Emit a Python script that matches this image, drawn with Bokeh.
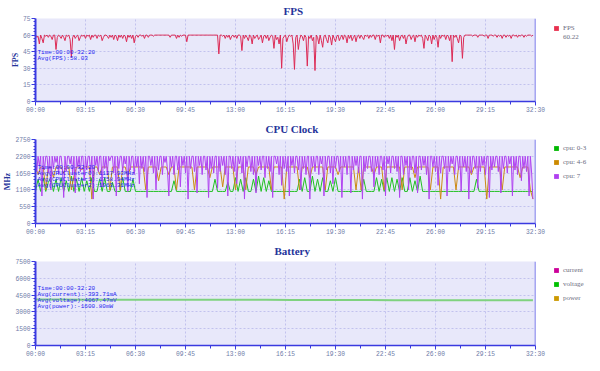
from bokeh.plotting import figure
from bokeh.layouts import column
from bokeh.models import Range1d, FixedTicker, Label, Legend, LegendItem, Span, Title
from bokeh.embed import file_html
from bokeh.resources import INLINE

NAN = float("nan")

# ---------------- data ----------------
tick_seconds = [0, 195, 390, 585, 780, 975, 1170, 1365, 1560, 1755, 1950]
tick_labels = ["00:00", "03:15", "06:30", "09:45", "13:00", "16:15",
               "19:30", "22:45", "26:00", "29:15", "32:30"]

fps_time = list(range(0, 1945, 5))
fps = [
    60, 58, 59, 52, 60, 57, 53, 60, 59, 60, 58, 60, 59, 56, 60, 60, 47, 58, 60, 59,
    57, 60, 58, 55, 60, 59, 60, 56, 40, 58, 60, 57, 59, 60, 55, 58, 60, 59, 60, 57,
    60, 59, 60, 56, 60, 58, 60, 60, 57, 60, 59, 60, 55, 58, 60, 60, 59, 57, 60, 58,
    60, 56, 60, 59, 55, 60, 58, 60, 57, 60, 59, 54, 60, 58, 60, 57, 60, 53, 59, 60,
    58, 60, 60, 59, 60, 57, 60, 60, 58, 60, 60, 60, 59, 60, 60, 60, 60, 60, 60, 60,
    60, 60, 60, 60, 60, 58, 60, 60, 60, 60, 57, 60, 58, 60, 59, 60, 60, 60, 54, 60,
    60, 60, 60, 60, 60, 60, 60, 60, 60, 60, 60, 60, 60, 60, 60, 60, 60, 60, 60, 60,
    60, 60, 60, 43, 60, 60, 59, 60, 57, 60, 58, 60, 56, 59, 60, 58, 60, 57, 60, 60,
    59, 46, 60, 57, 60, 58, 55, 60, 59, 52, 60, 57, 59, 60, 56, 58, 60, 53, 59, 60,
    57, 60, 55, 58, 60, 59, 48, 60, 56, 58, 52, 60, 30, 57, 59, 60, 54, 58, 60, 59,
    60, 52, 29, 58, 60, 47, 56, 60, 59, 55, 60, 58, 32, 59, 57, 60, 55, 58, 28, 60,
    58, 52, 60, 55, 49, 59, 60, 56, 53, 60, 58, 51, 60, 57, 54, 59, 60, 55, 58, 60,
    56, 60, 59, 53, 60, 57, 60, 55, 58, 60, 54, 59, 60, 57, 60, 58, 56, 60, 59, 60,
    57, 60, 58, 60, 60, 56, 60, 59, 60, 53, 60, 60, 58, 60, 59, 60, 57, 60, 55, 60,
    47, 60, 58, 60, 55, 59, 60, 57, 60, 52, 58, 60, 60, 56, 59, 60, 54, 60, 58, 60,
    59, 60, 57, 48, 60, 58, 55, 60, 59, 52, 60, 56, 60, 58, 49, 60, 57, 60, 59, 60,
    56, 60, 59, 55, 60, 36, 60, 58, 60, 57, 53, 60, 59, 39, 58, 60, 60, 60, 60, 60,
    60, 59, 60, 60, 60, 58, 60, 60, 60, 60, 59, 60, 60, 57, 60, 60, 60, 59, 60, 60,
    58, 60, 59, 60, 57, 60, 60, 58, 60, 59, 60, 57, 60, 60, 59, 60, 58, 60, 59, 60,
    60, 58, 60, 59, 60, 60, 60, 59, 60,
]

cpu_time = list(range(0, 1945, 10))
cpu_0_3 = [
    1050, 1450, 1050, 1500, 1050, 1350, 1500, 1050, 1450, 1050, 1500, 1050, 1400, 1050, 1550, 1050, 1450, 1050, 1500, 1050,
    1400, 1050, 1500, 1050, 1050, 1450, 1050, 1500, 1050, 1050, 1350, 1050, 1050, 1050, 1500, 1050, 1050, 1050, 1450, 1050,
    1050, 1050, 1050, 1050, 1050, 1050, 1050, 1050, 1050, 1050, 1050, 1050, 1050, 1050, 1400, 1050, 1050, 1050, 1050, 1050,
    1050, 1050, 1050, 1050, 1050, 1050, 1050, 1050, 1050, 1050, 1450, 1050, 1050, 1050, 1050, 1350, 1050, 1050, 1500, 1050,
    1450, 1050, 1500, 1050, 1050, 1450, 1050, 1550, 1050, 1500, 1050, 1400, 1050, 1050, 1050, 1050, 1050, 1050, 1050, 1050,
    1050, 1050, 1050, 1450, 1050, 1500, 1050, 1050, 1550, 1050, 1450, 1050, 1500, 1050, 1050, 1400, 1050, 1500, 1050, 1050,
    1050, 1050, 1050, 1050, 1050, 1050, 1050, 1050, 1450, 1050, 1050, 1050, 1050, 1500, 1050, 1450, 1050, 1500, 1050, 1500,
    1050, 1450, 1050, 1500, 1050, 1050, 1500, 1050, 1400, 1050, 1550, 1050, 1050, 1050, 1050, 1050, 1050, 1050, 1050, 1050,
    1050, 1050, 1050, 1050, 1050, 1050, 1050, 1050, 1050, 1050, 1050, 1050, 1450, 1050, 1050, 1050, 1050, 1050, 1050, 1050,
    1050, 1050, 1050, 1050, 1050, 1050, 1050, 1050, 1050, 1050, 1050, 1050, 1050, 1050, 1050,
]
cpu_4_6 = [
    1850, 1600, 1850, 1850, 1100, 1850, 1850, 1500, 1850, 1850, 1850, 1650, 1850, 1850, 1100, 1550, 1850, 1850, 1750, 1850,
    1850, 1850, 800, 1850, 1850, 1600, 1850, 1850, 1850, 1100, 1850, 1850, 1850, 1100, 1850, 1850, 1500, 1850, 1850, 1850,
    1850, 1850, 1850, 1100, 1850, 1850, 1850, 1850, 1400, 1850, 1850, 1850, 1600, 1850, 1850, 1100, 1850, 1850, 1850, 1850,
    1850, 1850, 1100, 1850, 1850, 1850, 1850, 1850, 1500, 1850, 1850, 1850, 1850, 1200, 1850, 1850, 1850, 1850, 1100, 1850,
    1850, 1850, 1100, 1850, 1850, 1850, 1600, 1850, 1850, 1850, 1850, 1850, 1100, 1850, 1850, 1850, 1850, 800, 1850, 1850,
    1850, 1850, 1850, 1100, 1850, 1850, 1850, 1500, 1850, 1850, 1850, 1850, 1850, 1100, 1850, 1850, 1850, 1850, 1600, 1850,
    1850, 1850, 1850, 1850, 1850, 1100, 1850, 1100, 1850, 1850, 1850, 1850, 1600, 1850, 1850, 1850, 1100, 1850, 1850, 1850,
    1850, 1850, 1850, 1100, 1850, 1850, 1850, 1850, 1500, 1850, 1850, 1850, 1850, 1850, 1100, 1850, 1850, 1850, 800, 1850,
    1850, 1850, 1850, 1850, 1100, 1850, 1850, 1850, 1850, 1850, 1600, 1850, 1850, 1850, 1850, 1850, 800, 1850, 1850, 1850,
    1850, 1850, 1100, 1850, 1850, 1850, 1850, 1850, 1850, 1500, 1850, 1850, 1850, 1100, 800,
]
cpu7_time = list(range(0, 1945, 5))
cpu_7 = [
    2200, 1700, 2200, 1900, 2200, 900, 2200, 1750, 2200, 2200, 1650, 2200, 1100, 2200, 1800, 2200, 2000, 2200, 1600, 2200,
    2200, 1800, 850, 2200, 1700, 2200, 2200, 1950, 2200, 1600, 2200, 1000, 2200, 1850, 2200, 1700, 2200, 2200, 1400, 2200,
    1750, 2200, 2200, 1650, 2200, 800, 2200, 1900, 2200, 1700, 2200, 2200, 1200, 2200, 1800, 2200, 1600, 2200, 2050, 2200,
    2200, 1650, 2200, 900, 2200, 1800, 2200, 2200, 1700, 2200, 1950, 2200, 1050, 2200, 1750, 2200, 2200, 1600, 2200, 1850,
    2200, 1300, 2200, 1800, 2200, 1700, 2200, 850, 2200, 2200, 1900, 2200, 1650, 2200, 1100, 2200, 1750, 2200, 2200, 1600,
    2200, 2000, 2200, 1700, 900, 2200, 1850, 2200, 1600, 2200, 2200, 1750, 2200, 1200, 2200, 1900, 2200, 1650, 2200, 800,
    2200, 1800, 2200, 2200, 1700, 2200, 1000, 2200, 1900, 2200, 1600, 2200, 2200, 1750, 2200, 850, 2200, 1800, 2200, 1650,
    2200, 2200, 1150, 2200, 1700, 2200, 1900, 2200, 1600, 2200, 900, 2200, 2200, 1800, 2200, 1700, 2200, 1300, 2200, 1950,
    2200, 1650, 2200, 800, 2200, 1850, 2200, 2200, 1700, 2200, 1600, 2200, 1000, 2200, 1900, 2200, 1750, 2200, 2200, 1500,
    2200, 1800, 2200, 1700, 2200, 850, 2200, 2200, 1950, 2200, 1600, 2200, 1250, 2200, 1800, 2200, 1700, 2200, 900, 2200,
    1900, 2200, 1650, 2200, 2200, 1750, 2200, 1100, 2200, 1800, 2200, 1600, 2200, 2200, 800, 2200, 1850, 2200, 1700, 2200,
    2200, 1600, 2200, 1950, 2200, 900, 2200, 1750, 2200, 2200, 1650, 2200, 1300, 2200, 1800, 2200, 2200, 1700, 2200, 850,
    2200, 1850, 2200, 1600, 2200, 2200, 1000, 2200, 1750, 2200, 1900, 2200, 1650, 2200, 2200, 800, 2200, 1700, 2200, 1800,
    2200, 2200, 1700, 2200, 1200, 2200, 1850, 2200, 1600, 2200, 2200, 1750, 2200, 900, 2200, 1950, 2200, 1650, 2200, 2200,
    1800, 2200, 1700, 2200, 850, 2200, 2200, 1600, 2200, 1900, 2200, 1100, 2200, 1750, 2200, 2200, 1650, 2200, 1000, 2200,
    2200, 1750, 2200, 1900, 2200, 1600, 2200, 800, 2200, 2200, 1850, 2200, 1700, 2200, 1250, 2200, 1650, 2200, 2200, 1800,
    2200, 900, 2200, 1700, 2200, 1950, 2200, 1600, 2200, 2200, 1750, 2200, 1050, 2200, 1850, 2200, 1700, 2200, 800, 2200,
    1650, 2200, 2200, 1800, 2200, 1150, 2200, 1700, 2200, 1900, 2200, 1600, 2200, 2200, 850, 2200, 1750, 2200, 1850, 2200,
    2200, 1700, 2200, 1000, 2200, 1800, 2200, 2200, 1650, 2200, 1950, 2200, 900, 2200, 1750, 2200, 1600, 2200, 2200, 1400,
    2200, 1800, 2200, 1700, 2200, 900, 2200, 1650, 800,
]

bat_time = [0, 100, 200, 300, 400, 500, 600, 700, 800, 900, 1000,
            1100, 1200, 1300, 1400, 1500, 1600, 1700, 1800, 1900, 1940]
voltage = [4100, 4098, 4095, 4093, 4090, 4088, 4085, 4083, 4080, 4078, 4060,
           4057, 4055, 4052, 4050, 4048, 4045, 4043, 4040, 4038, 4037]
bat_time_cp = [0, 485, 970, 1455, 1940]
current = [-385, -398, -402, -390, -394]
power = [-1570, -1615, -1625, -1590, -1603]

fps_notes = ["Time:00:00-32:20", "Avg(FPS):58.03"]
cpu_notes = ["Time:00:00-32:20", "Avg(CPUCluster0):1127.93MHz",
             "Avg(CPUCluster1):1758.94MHz", "Avg(CPUCluster2):1963.31MHz"]
bat_notes = ["Time:00:00-32:20", "Avg(current):-393.71mA",
             "Avg(voltage):4067.47mV", "Avg(power):-1600.80mW"]
fps_legend_value = "60.22"

# ---------------- style ----------------
BLUE = "#3A3AE0"
TICKTXT = "#6F7CA8"
TITLE = "#26349A"
NOTE = "#1E1EF0"
FRAME_W = 500


def make_fig(frame_h, ymax, ystep, top, bottom, ylabel, title, standoff, title_x):
    p = figure(frame_width=FRAME_W, frame_height=frame_h, output_backend="svg",
               toolbar_location=None,
               x_range=Range1d(0, 1950), y_range=Range1d(0, ymax),
               min_border_left=27, min_border_right=55,
               min_border_top=top, min_border_bottom=bottom)
    p.background_fill_color = "#E8E8FA"
    p.border_fill_color = "white"
    p.outline_line_color = None
    p.add_layout(Title(text=title, align="left", offset=title_x, standoff=standoff,
                       text_font="Liberation Serif", text_font_size="11px",
                       text_font_style="bold", text_color=TITLE), "above")

    yt = [ystep * i for i in range(6)]
    ym = [ystep / 5 * i for i in range(26) if i % 5]
    xm = [t + 97.5 for t in tick_seconds[:-1]]
    p.xaxis.ticker = FixedTicker(ticks=tick_seconds, minor_ticks=xm)
    p.yaxis.ticker = FixedTicker(ticks=yt, minor_ticks=ym)
    p.xaxis.major_label_overrides = {t: l for t, l in zip(tick_seconds, tick_labels)}
    p.yaxis.major_label_overrides = {v: str(int(v)) for v in yt}
    p.xgrid.ticker = FixedTicker(ticks=tick_seconds)
    p.ygrid.ticker = FixedTicker(ticks=yt)
    for g in (p.xgrid, p.ygrid):
        g.grid_line_color = "#C2C2EE"
        g.grid_line_dash = "2 2"
        g.grid_line_width = 1

    for ax in (p.xaxis, p.yaxis):
        ax.axis_line_color = BLUE
        ax.major_tick_line_color = BLUE
        ax.minor_tick_line_color = BLUE
        ax.major_tick_in = 0
        ax.minor_tick_in = 0
        ax.major_label_text_font = "Liberation Mono"
        ax.major_label_text_font_size = "6.3px"
        ax.major_label_text_color = TICKTXT
    p.xaxis.major_label_standoff = 1
    p.yaxis.major_label_standoff = 1
    p.yaxis.axis_line_width = 2
    p.xaxis.axis_line_width = 1.5
    p.yaxis.major_tick_out = 4
    p.yaxis.minor_tick_out = 2
    p.xaxis.major_tick_out = 4
    p.xaxis.minor_tick_out = 3
    if ylabel:
        p.yaxis.axis_label = ylabel
        p.yaxis.axis_label_text_font = "Liberation Serif"
        p.yaxis.axis_label_text_font_size = "8px"
        p.yaxis.axis_label_text_font_style = "bold"
        p.yaxis.axis_label_text_color = TITLE
        p.yaxis.axis_label_standoff = 0

    p.add_layout(Span(location=1950, dimension="height", line_color="#5A5AE6", line_width=1.5))
    return p


def add_notes(p, lines, y0):
    for i, s in enumerate(lines):
        p.add_layout(Label(x=2, y=y0 - 6.2 * i, x_units="screen", y_units="screen",
                           text=s, text_baseline="middle", text_font="Liberation Mono",
                           text_font_size="6px", text_color=NOTE))


def legend_box(p, color, alpha=1.0):
    return p.quad(left=[NAN], right=[NAN], top=[NAN], bottom=[NAN], fill_color=color,
                  fill_alpha=alpha, line_color=None)


def add_legend(p, items, spacing, frame_h, first_center):
    pad = 4
    lh = 8
    n = len(items)
    h = 2 * pad + n * lh + (n - 1) * spacing
    top = frame_h - (first_center - 4) + lh / 2 + pad
    leg = Legend(items=items, location=(18, top - h), margin=0, padding=pad,
                 spacing=spacing, glyph_width=6, glyph_height=6, label_height=lh,
                 label_standoff=4, label_text_font="Liberation Serif",
                 label_text_font_size="7px", label_text_color="#6C6C80",
                 border_line_color=None, background_fill_alpha=0)
    p.add_layout(leg, "right")


# ---------------- FPS ----------------
p1 = make_fig(83, 75, 15, 0, 12, "FPS", "FPS", 4, 248)
p1.line(fps_time, fps, line_color="#DC2A55", line_width=1)
add_notes(p1, fps_notes, 49.5)
add_legend(p1, [LegendItem(label="FPS", renderers=[legend_box(p1, "#E8304F")]),
                LegendItem(label=fps_legend_value,
                           renderers=[legend_box(p1, "#FFFFFF", 0.0)])], 1, 83, 10)

# ---------------- CPU ----------------
p2 = make_fig(84, 2750, 550, 19, 15, "MHz", "CPU Clock", 9, 230)
p2.line(cpu_time, cpu_0_3, line_color="#22C022", line_width=1)
p2.line(cpu_time, cpu_4_6, line_color="#CC8A14", line_width=1)
p2.line(cpu7_time, cpu_7, line_color="#B044F0", line_width=1)
add_notes(p2, cpu_notes, 56.5)
add_legend(p2, [LegendItem(label="cpu: 0-3", renderers=[legend_box(p2, "#00B800")]),
                LegendItem(label="cpu: 4-6", renderers=[legend_box(p2, "#CC8A00")]),
                LegendItem(label="cpu: 7", renderers=[legend_box(p2, "#B040F0")])], 6, 84, 9)

# ---------------- Battery ----------------
p3 = make_fig(84, 7500, 1500, 19, 16, None, "Battery", 9, 239)
p3.line(bat_time_cp, current, line_color="#CC0099", line_width=1.5)
p3.line(bat_time, voltage, line_color="#7FD27F", line_width=2)
p3.line(bat_time_cp, power, line_color="#CC9900", line_width=1.5)
add_notes(p3, bat_notes, 57.5)
add_legend(p3, [LegendItem(label="current", renderers=[legend_box(p3, "#CC0099")]),
                LegendItem(label="voltage", renderers=[legend_box(p3, "#00C000")]),
                LegendItem(label="power", renderers=[legend_box(p3, "#CC9900")])], 6, 84, 8.5)

layout = column(p1, p2, p3, spacing=0)
open("out.html", "w").write(file_html(layout, INLINE))
